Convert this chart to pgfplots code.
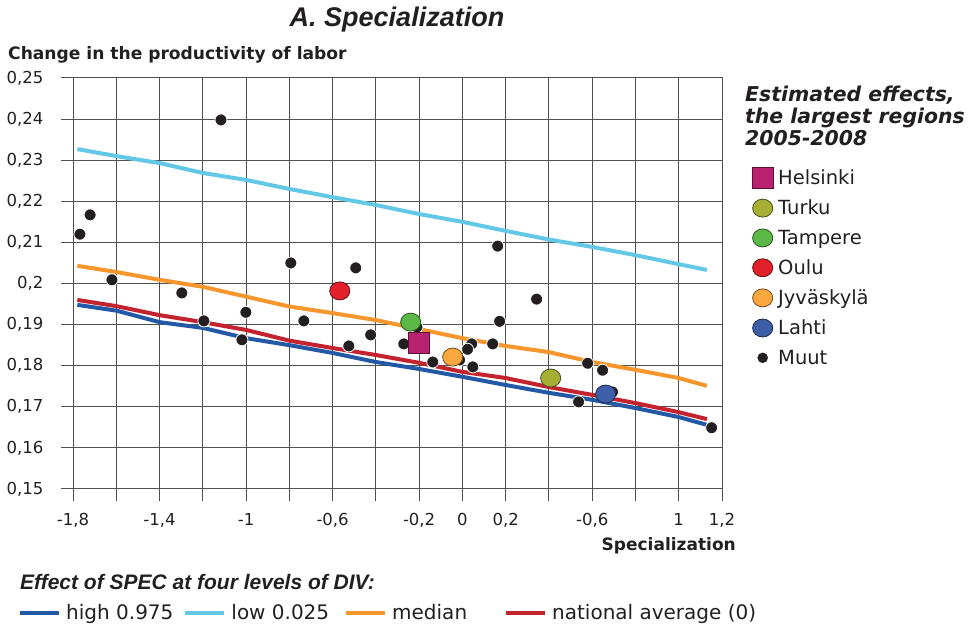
\documentclass[border=0pt]{standalone}
\usepackage{pgfplots}
\pgfplotsset{compat=1.18}
\usepackage{fontspec}
\setmainfont{DejaVu Sans}[ItalicFont={DejaVu Sans Oblique},BoldItalicFont={DejaVu Sans Bold Oblique}]
\newfontfamily\arialfont{Liberation Sans}
\definecolor{gridc}{HTML}{505050}
\definecolor{textc}{HTML}{231F20}
\definecolor{cHigh}{HTML}{2358A6}
\definecolor{cLow}{HTML}{62C8E6}
\definecolor{cMed}{HTML}{F7962D}
\definecolor{cNat}{HTML}{C3222E}
\definecolor{cHel}{HTML}{B8226E}
\definecolor{cTur}{HTML}{A6AE33}
\definecolor{cTam}{HTML}{5CB947}
\definecolor{cOul}{HTML}{E2202A}
\definecolor{cJyv}{HTML}{F9A73E}
\definecolor{cLah}{HTML}{3F5EAA}
\definecolor{cDot}{HTML}{231F20}

\begin{document}
\begin{tikzpicture}
\path[use as bounding box] (0pt,0pt) rectangle (970pt,627pt);
\begin{axis}[
  at={(73pt,138pt)}, anchor=south west,
  scale only axis, width=649pt, height=411pt,
  xmin=-1.8, xmax=1.2, ymin=0.15, ymax=0.25,
  clip=false,
  xtick={-1.8,-1.6,-1.4,-1.2,-1,-0.8,-0.6,-0.4,-0.2,0,0.2,0.4,0.6,0.8,1,1.2},
  xticklabels={{-1,8},{},{-1,4},{},{-1},{},{-0,6},{},{-0,2},{0},{0,2},{},{-0,6},{},{1},{1,2}},
  ytick={0.15,0.16,0.17,0.18,0.19,0.2,0.21,0.22,0.23,0.24,0.25},
  yticklabels={{0,15},{0,16},{0,17},{0,18},{0,19},{0,2},{0,21},{0,22},{0,23},{0,24},{0,25}},
  grid=major,
  major grid style={gridc, line width=1pt},
  axis line style={gridc, line width=1pt},
  tick pos=left, tick align=outside,
  major tick length=12pt,
  every tick/.style={gridc, line width=1pt},
  ticklabel style={font=\fontsize{16.5}{18}\selectfont, text=textc},
  xticklabel style={yshift=-9pt},
  yticklabel style={xshift=-14pt},
  legend style={at={(axis description cs:1.0462,0.7835)}, anchor=north west,
    draw=none, fill=none, font=\fontsize{19.5}{22}\selectfont, text=textc,
    row sep=9.8pt, inner sep=0pt,
    /tikz/every odd column/.append style={column sep=3pt}},
  legend cell align=left,
]
% curves
\addplot[cLow, line width=4pt, forget plot] coordinates {
(-1.78,0.2327) (-1.6,0.2310) (-1.4,0.2293) (-1.2,0.2269) (-1.0,0.2252) (-0.8,0.2230)
(-0.6,0.2210) (-0.4,0.2191) (-0.2,0.2169) (0,0.2150) (0.2,0.2128) (0.4,0.2107)
(0.6,0.2089) (0.8,0.2069) (1.0,0.2047) (1.13,0.2033)};
\addplot[cMed, line width=4pt, forget plot] coordinates {
(-1.78,0.2043) (-1.6,0.2028) (-1.4,0.2009) (-1.2,0.1992) (-1.0,0.1968)
(-0.8,0.1944) (-0.6,0.1928) (-0.4,0.1911) (-0.2,0.1889) (0,0.1867) (0.2,0.1848)
(0.4,0.1833) (0.6,0.1809) (0.8,0.1790) (1.0,0.1770) (1.13,0.1751)};
\addplot[cHigh, line width=4pt, forget plot] coordinates {
(-1.78,0.1948) (-1.6,0.1934) (-1.4,0.1906) (-1.2,0.1892) (-1.0,0.1867) (-0.8,0.1850)
(-0.6,0.1831) (-0.4,0.1809) (-0.2,0.1792) (0,0.1773) (0.2,0.1753) (0.4,0.1734)
(0.6,0.1717) (0.8,0.1697) (1.0,0.1675) (1.13,0.1656)};
\addplot[cNat, line width=4pt, forget plot] coordinates {
(-1.78,0.1960) (-1.6,0.1945) (-1.4,0.1923) (-1.2,0.1906) (-1.0,0.1887) (-0.8,0.1861)
(-0.6,0.1843) (-0.4,0.1826) (-0.2,0.1807) (0,0.1785) (0.2,0.1770) (0.4,0.1748)
(0.6,0.1729) (0.8,0.1709) (1.0,0.1687) (1.13,0.1670)};
% other regions
\addplot[only marks, mark=*, mark size=6pt, mark options={fill=cDot, draw=white, line width=0.8pt}, forget plot] coordinates {
(-1.768,0.2120) (-1.721,0.2167) (-1.116,0.2398) (-1.62,0.2009) (-1.297,0.1977)
(-0.793,0.2050) (-0.493,0.2038) (-1.195,0.1909) (-1.001,0.1930) (-1.019,0.1863)
(-0.733,0.1909) (-0.525,0.1848) (-0.424,0.1875) (0.343,0.1962) (0.172,0.1908)
(-0.271,0.1853) (-0.21,0.1894) (0.043,0.1853) (0.024,0.1840) (0.140,0.1853)
(-0.137,0.1809) (-0.013,0.1814) (0.048,0.1797) (0.579,0.1806) (0.648,0.1789)
(0.537,0.1712) (0.694,0.1736) (1.152,0.1649) (0.163,0.2091)};
% large regions
\addplot[only marks, mark=square*, mark size=10.5pt, mark options={fill=cHel, draw=cHel!50!black, line width=0.8pt}, forget plot] coordinates {(-0.202,0.1855)};
\addplot[only marks, mark=*, mark size=9pt, mark options={xscale=1.12, fill=cTur, draw=cTur!45!black, line width=0.8pt}, forget plot] coordinates {(0.408,0.1770)};
\addplot[only marks, mark=*, mark size=9pt, mark options={xscale=1.12, fill=cTam, draw=cTam!45!black, line width=0.8pt}, forget plot] coordinates {(-0.239,0.1906)};
\addplot[only marks, mark=*, mark size=9pt, mark options={xscale=1.12, fill=cOul, draw=cOul!45!black, line width=0.8pt}, forget plot] coordinates {(-0.567,0.1982)};
\addplot[only marks, mark=*, mark size=9pt, mark options={xscale=1.12, fill=cJyv, draw=cJyv!45!black, line width=0.8pt}, forget plot] coordinates {(-0.045,0.1821)};
\addplot[only marks, mark=*, mark size=9pt, mark options={xscale=1.12, fill=cLah, draw=cLah!45!black, line width=0.8pt}, forget plot] coordinates {(0.662,0.1731)};
% legend
\addlegendimage{only marks, mark=square*, mark size=10.5pt, mark options={fill=cHel, draw=cHel!50!black, line width=0.8pt}}
\addlegendentry{Helsinki}
\addlegendimage{only marks, mark=*, mark size=9pt, mark options={xscale=1.12, fill=cTur, draw=cTur!45!black, line width=0.8pt}}
\addlegendentry{Turku}
\addlegendimage{only marks, mark=*, mark size=9pt, mark options={xscale=1.12, fill=cTam, draw=cTam!45!black, line width=0.8pt}}
\addlegendentry{Tampere}
\addlegendimage{only marks, mark=*, mark size=9pt, mark options={xscale=1.12, fill=cOul, draw=cOul!45!black, line width=0.8pt}}
\addlegendentry{Oulu}
\addlegendimage{only marks, mark=*, mark size=9pt, mark options={xscale=1.12, fill=cJyv, draw=cJyv!45!black, line width=0.8pt}}
\addlegendentry{Jyväskylä}
\addlegendimage{only marks, mark=*, mark size=9pt, mark options={xscale=1.12, fill=cLah, draw=cLah!45!black, line width=0.8pt}}
\addlegendentry{Lahti}
\addlegendimage{only marks, mark=*, mark size=5pt, mark options={fill=cDot, draw=cDot}}
\addlegendentry{Muut}
\end{axis}
\begin{axis}[
  at={(73pt,138pt)}, anchor=south west,
  scale only axis, width=649pt, height=411pt,
  hide axis, xmin=0, xmax=1, ymin=0, ymax=1,
  legend columns=4,
  legend style={at={(axis description cs:-0.0847,-0.3017)}, anchor=west,
    draw=none, fill=none, inner sep=0pt, font=\fontsize{20}{22}\selectfont, text=textc,
    /tikz/every even column/.append style={column sep=8pt},
    /tikz/every odd column/.append style={column sep=3pt}},
  legend image code/.code={\draw[#1, line width=4pt] (0pt,0pt) -- (39pt,0pt);},
]
\addlegendimage{cHigh}
\addlegendentry{high 0.975}
\addlegendimage{cLow}
\addlegendentry{low 0.025\rule{5pt}{0pt}}
\addlegendimage{cMed}
\addlegendentry{median\rule{27pt}{0pt}}
\addlegendimage{cNat}
\addlegendentry{national average (0)}
\end{axis}
% texts
\node[anchor=base, font=\arialfont\bfseries\itshape\fontsize{27}{29}\selectfont, text=textc] at (397pt,600pt) {A. Specialization};
\node[anchor=base west, font=\bfseries\fontsize{17.1}{19}\selectfont, text=textc, inner sep=0pt] at (8pt,567pt) {Change in the productivity of labor};
\node[anchor=base east, font=\bfseries\fontsize{17}{19}\selectfont, text=textc, inner sep=0pt] at (736pt,76pt) {Specialization};
\node[anchor=base west, font=\bfseries\itshape\fontsize{20.4}{22}\selectfont, text=textc, inner sep=0pt] at (745pt,525pt) {Estimated effects,};
\node[anchor=base west, font=\bfseries\itshape\fontsize{20.4}{22}\selectfont, text=textc, inner sep=0pt] at (745pt,503pt) {the largest regions};
\node[anchor=base west, font=\bfseries\itshape\fontsize{20.4}{22}\selectfont, text=textc, inner sep=0pt] at (745pt,481pt) {2005-2008};
\node[anchor=base west, font=\arialfont\bfseries\itshape\fontsize{21}{24}\selectfont, text=textc, inner sep=0pt] at (20pt,37pt) {Effect of SPEC at four levels of DIV:};
\end{tikzpicture}
\end{document}
